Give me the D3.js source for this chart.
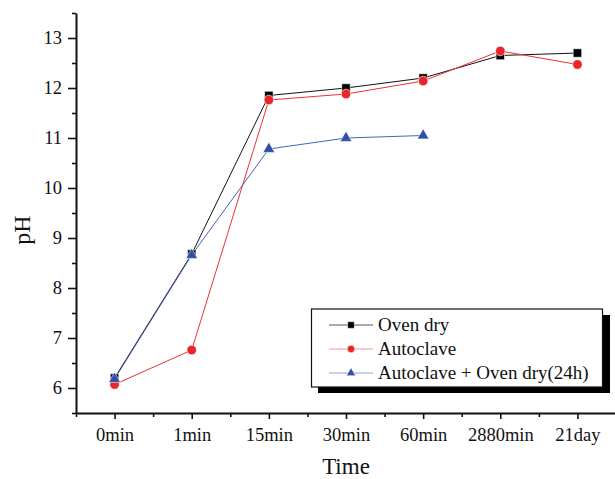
<!DOCTYPE html>
<html><head><meta charset="utf-8">
<script src="https://cdn.jsdelivr.net/npm/d3@7"></script>
<style>body{margin:0;background:#fff}svg{display:block}text{font-family:"Liberation Serif","Times New Roman",serif}</style>
</head><body><svg id="c" width="615" height="479"></svg>
<script>
const categories = ["0min","1min","15min","30min","60min","2880min","21day"];
const ovenDry = [6.2, 8.68, 11.85, 12.0, 12.2, 12.65, 12.7];
const autoclave = [6.07, 6.76, 11.76, 11.88, 12.14, 12.74, 12.47];
const autoclaveOven = [6.18, 8.66, 10.78, 11.0, 11.05];
const yTicks = [6,7,8,9,10,11,12,13];
const seriesNames = ["Oven dry","Autoclave","Autoclave + Oven dry(24h)"];

const svg = d3.select("#c");
const x = d3.scaleLinear().domain([-0.5, 6.5]).range([76, 616]);
const y = d3.scaleLinear().domain([5.5, 13.5]).range([413, 13]);

// axes
const gx = svg.append("g").attr("transform","translate(0,413)");
gx.call(d3.axisBottom(x).tickValues(d3.range(0,7)).tickSize(6).tickSizeOuter(0).tickPadding(9).tickFormat(i=>categories[i]));
gx.append("g").call(d3.axisBottom(x).tickValues(d3.range(-0.5,7,1)).tickSize(4).tickFormat("").tickSizeOuter(0))
  .select(".domain").remove();
const gy = svg.append("g").attr("transform","translate(76,0)");
gy.call(d3.axisLeft(y).tickValues(yTicks).tickSize(8).tickSizeOuter(0).tickPadding(6).tickFormat(d3.format("d")));
gy.append("g").call(d3.axisLeft(y).tickValues(d3.range(5.5,14,1)).tickSize(4).tickFormat("").tickSizeOuter(0))
  .select(".domain").remove();
svg.selectAll(".domain").attr("stroke","#111").attr("stroke-width",2);
svg.selectAll(".tick line").attr("stroke","#111").attr("stroke-width",1.6);
svg.selectAll("g").attr("font-family",null);
svg.selectAll(".tick text").attr("font-size",18.5).attr("fill","#111").style("font-family","Liberation Serif");

// labels
svg.append("text").attr("x",346).attr("y",474).attr("text-anchor","middle").attr("font-size",23).attr("fill","#111").text("Time");
svg.append("text").attr("transform","translate(30,230) rotate(-90)").attr("text-anchor","middle").attr("font-size",24).attr("fill","#111").text("pH");

const series = [
  {vals: ovenDry, color:"#111", mark:"#000", sym:d3.symbolSquare, size:72, lcolor:"#555"},
  {vals: autoclave, color:"#f03030", mark:"#e8262a", sym:d3.symbolCircle, size:72, lcolor:"#f59a9a"},
  {vals: autoclaveOven, color:"#4a63b5", mark:"#2f4fa8", sym:d3.symbolTriangle, size:60, lcolor:"#8fa0d8"}
];
const line = d3.line().x((d,i)=>x(i)).y(d=>y(d));
series.forEach(s=>{
  svg.append("path").datum(s.vals).attr("d",line).attr("fill","none").attr("stroke",s.color).attr("stroke-width",1);
});
series.forEach(s=>{
  svg.append("g").selectAll("path").data(s.vals).join("path")
    .attr("transform",(d,i)=>`translate(${x(i)},${y(d)})`)
    .attr("d",d3.symbol().type(s.sym).size(s.size)).attr("fill",s.mark).attr("stroke","#fff").attr("stroke-width",0.6);
});

// legend
const lg = svg.append("g");
lg.append("rect").attr("x",318).attr("y",315).attr("width",292).attr("height",78).attr("fill","#000");
lg.append("rect").attr("x",311.5).attr("y",309).attr("width",291).attr("height",78).attr("fill","#fff").attr("stroke","#111").attr("stroke-width",1.2);
series.forEach((s,i)=>{
  const yy = 325 + i*24;
  lg.append("line").attr("x1",329).attr("x2",373).attr("y1",yy).attr("y2",yy).attr("stroke",s.lcolor).attr("stroke-width",1);
  lg.append("path").attr("transform",`translate(351,${yy})`).attr("d",d3.symbol().type(s.sym).size(s.size*0.6)).attr("fill",s.mark).attr("stroke","#fff").attr("stroke-width",0.5);
  lg.append("text").attr("x",378).attr("y",yy+6).attr("font-size",19).attr("fill","#111").text(seriesNames[i]);
});
</script></body></html>
